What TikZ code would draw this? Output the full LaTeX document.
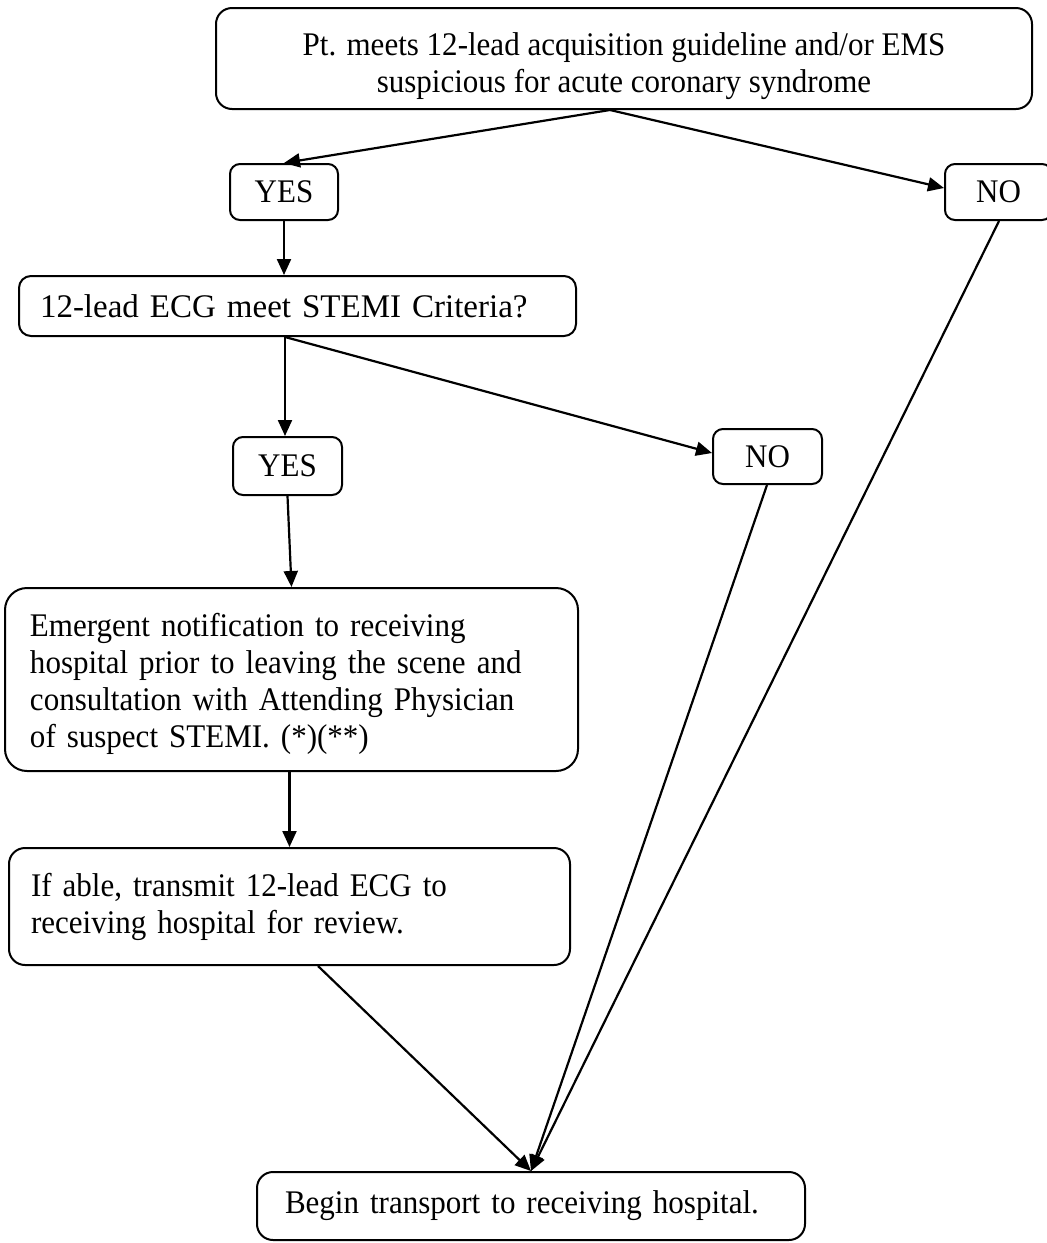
\documentclass[tikz,border=0pt]{standalone}
\usepackage{fontspec}
\setmainfont[FakeStretch=0.94]{Liberation Serif}
\newfontfamily\widerfont{Liberation Serif}
\usetikzlibrary{arrows.meta}
\begin{document}
\begin{tikzpicture}[x=1pt,y=-1pt,
  box/.style={draw, line width=2pt, rounded corners=16pt, font=\fontsize{33pt}{37pt}\selectfont, inner sep=0pt},
  small/.style={box, rounded corners=10pt},
  arr/.style={line width=2.2pt, -{Triangle[length=16pt,width=14pt]}}]
\useasboundingbox (0,0) rectangle (1047,1243);
\node[box, minimum width=816pt, minimum height=101pt, align=center] (top) at (624,58.5)
  {\rule{0pt}{39pt}Pt. meets 12-lead acquisition guideline and/or EMS\\suspicious for acute coronary syndrome};
\node[small, minimum width=108pt, minimum height=56pt] (yes1) at (284,192) {YES};
\node[small, minimum width=107pt, minimum height=56pt] (no1) at (998.5,192) {NO};
\node[box, rounded corners=12pt, minimum height=60pt, text width=515pt, inner xsep=21pt, align=left,
  font=\widerfont\fontsize{33pt}{37pt}\selectfont] (q) at (297.5,306)
  {12-lead ECG meet STEMI Criteria?};
\node[small, minimum width=109pt, minimum height=58pt] (yes2) at (287.5,466) {YES};
\node[small, minimum width=109pt, minimum height=55pt] (no2) at (767.5,456.5) {NO};
\node[box, rounded corners=22pt, minimum height=183pt, text width=523pt, inner xsep=25pt, align=left] (em) at (291.5,679.5)
  {\rule{0pt}{33pt}Emergent notification to receiving\\hospital prior to leaving the scene and\\consultation with Attending Physician\\of suspect STEMI. (*)(**)};
\node[box, minimum height=117pt, text width=517pt, inner xsep=22pt, align=left] (ifa) at (289.5,906.5)
  {If able, transmit 12-lead ECG to\\receiving hospital for review.};
\node[box, minimum height=68pt, text width=492pt, inner xsep=28pt, align=left] (begin) at (531,1206)
  {Begin transport to receiving hospital.};
\draw[arr] ([xshift=-14pt]top.south) -- (yes1.north);
\draw[arr] ([xshift=-14pt]top.south) -- ([yshift=4pt]no1.west);
\draw[arr] (yes1.south) -- (yes1.south |- q.north);
\draw[arr] ([xshift=-12.5pt]q.south) -- ([xshift=-2.5pt]yes2.north);
\draw[arr] ([xshift=-12.5pt]q.south) -- ([yshift=3.5pt]no2.west);
\draw[arr] (yes2.south) -- (em.north);
\draw[arr] (ifa.north |- em.south) -- (ifa.north);
\draw[arr] ([xshift=28.5pt]ifa.south) -- (begin.north);
\draw[arr] ([xshift=-0.5pt]no2.south) -- (begin.north);
\draw[arr] ([xshift=0.5pt]no1.south) -- (begin.north);
\end{tikzpicture}
\end{document}
